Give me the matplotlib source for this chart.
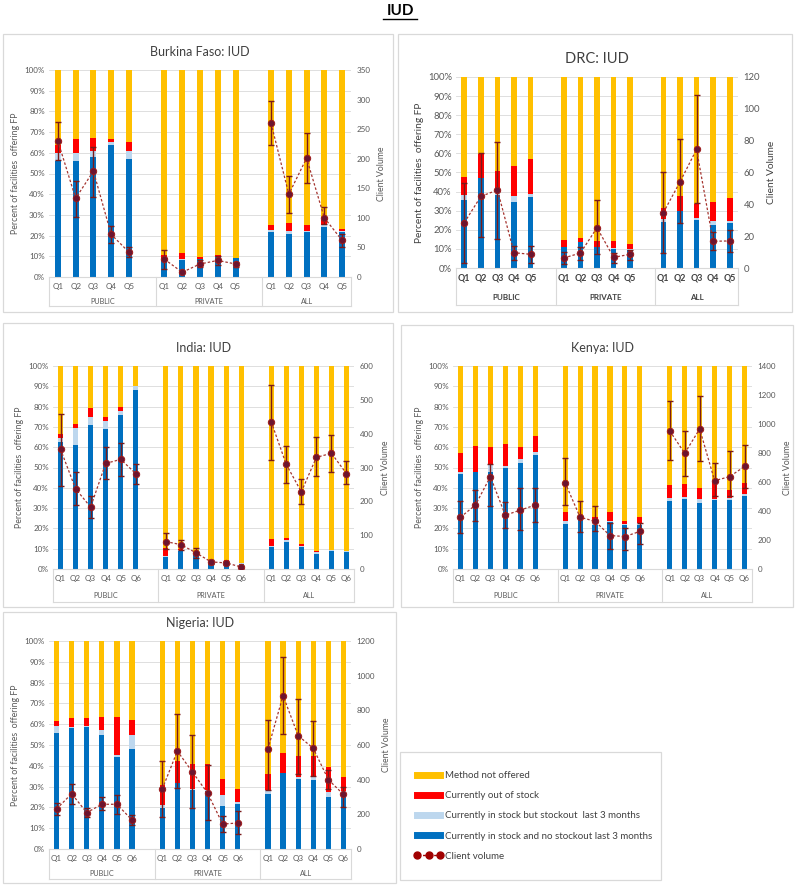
import numpy as np
import matplotlib
matplotlib.use("Agg")
import matplotlib.pyplot as plt
from matplotlib.lines import Line2D
from matplotlib.patches import Rectangle
import matplotlib.transforms as mtrans

plt.rcParams['font.family'] = ['Lato', 'DejaVu Sans']

groups = ['PUBLIC', 'PRIVATE', 'ALL']
quint = ['Q1', 'Q2', 'Q3', 'Q4', 'Q5']
quint6 = ['Q1', 'Q2', 'Q3', 'Q4', 'Q5', 'Q6']

# cumulative tops in %: in stock (no stockout), + stockout last 3 months, + out of stock
# rest up to 100% = method not offered.  cv = client volume (right axis), hi/lo = error bars
bf_blue = [56, 56, 58, 64, 57, 8, 8, 8.5, 9.5, 9, 21.5, 21, 21.5, 24, 21.5]
bf_light = [60, 60, 61, 65, 61, 8.5, 8.5, 8.5, 9.5, 9, 22.5, 22, 22, 25, 22]
bf_red = [64, 66.5, 67, 66.5, 65, 10.5, 11.5, 9.5, 10.5, 9, 25, 26, 25, 27.5, 23]
bf_cv = [230, 133, 179, 72, 42, 30, 8, 22, 28, 22, 260, 140, 201, 100, 62]
bf_hi = [262, 163, 219, 86, 51, 46, 10, 28, 35, 26, 297, 171, 243, 118, 73]
bf_lo = [198, 101, 136, 58, 33, 13, 6, 17, 21, 17, 223, 108, 159, 89, 51]

drc_blue = [35.5, 47, 38, 34.5, 37, 11, 13.5, 11, 10, 9.5, 24, 30, 25, 22.5, 23.5]
drc_light = [38, 47, 40, 37.5, 38.5, 11, 13.8, 11, 10.5, 10, 25.5, 30, 26, 24.5, 24.5]
drc_red = [47.5, 59.5, 51, 53.5, 57, 14.5, 15.5, 14, 14, 12.5, 31.5, 37.5, 33.5, 34.5, 36.5]
drc_cv = [28.5, 45, 49, 9.6, 8.6, 6.3, 9.4, 25.3, 6.7, 8.6, 34.8, 54, 74.5, 16.8, 17]
drc_hi = [53.4, 72, 79, 14, 13.6, 10, 13, 42.5, 9.6, 11, 60, 81, 109, 22.4, 23.7]
drc_lo = [3.4, 19.5, 18.5, 5, 3.4, 2.7, 5, 9, 3.4, 4.8, 9.4, 28.5, 41, 11, 10]

in_blue = [62.5, 61, 71, 69, 76, 88, 6, 9, 7, 3.5, 3, 2.5, 11, 13.5, 11, 7.5, 9, 8.5]
in_light = [64.5, 69.5, 75, 73, 78, 90, 6.5, 9.5, 7.5, 4.5, 4, 3.2, 11.5, 14.5, 11.5, 8.5, 9.3, 8.7]
in_red = [66.5, 71.5, 79.5, 75, 80, 90, 10.5, 10, 8, 4.5, 4.2, 3.2, 15, 15.5, 12.5, 9, 9.5, 8.7]
in_cv = [354, 237, 183, 312, 324, 282, 81, 72, 48, 21, 18, 6, 435, 309, 228, 330, 342, 282]
in_hi = [459, 288, 216, 360, 372, 309, 105, 87, 63, 27, 24, 9, 543, 363, 267, 390, 396, 318]
in_lo = [246, 189, 150, 267, 276, 252, 60, 57, 33, 15, 12, 3, 321, 255, 192, 276, 288, 252]

ke_blue = [47, 48, 48, 50, 52, 56, 22, 24, 21.5, 23, 21.5, 21.5, 33.5, 34.5, 32.5, 34, 34, 36]
ke_light = [48, 48, 51.5, 50.5, 54, 57.5, 23.5, 24.5, 22.5, 23.5, 22, 22.5, 35, 35.5, 34.5, 34.5, 35, 37]
ke_red = [57, 60.5, 60, 61.5, 60, 65.5, 28, 26, 25.5, 28, 23.5, 25.5, 41.5, 42, 40, 44, 39, 42.5]
ke_cv = [357, 441, 637, 371, 406, 441, 595, 357, 329, 231, 224, 259, 952, 798, 966, 609, 637, 707]
ke_hi = [469, 546, 721, 462, 560, 560, 763, 469, 434, 315, 280, 315, 1162, 952, 1190, 728, 812, 854]
ke_lo = [245, 329, 434, 280, 266, 322, 441, 252, 259, 140, 133, 175, 749, 644, 742, 504, 504, 560]

ng_blue = [56, 58, 58.5, 55, 44, 48, 19.7, 31.7, 28.4, 28, 20.7, 21.6, 26.5, 36.5, 33.5, 33, 25, 26.5]
ng_light = [59, 58.5, 59, 57, 45, 55, 21, 31.7, 29, 28.5, 26, 22.6, 28.5, 36.5, 34.5, 34.5, 27.5, 28]
ng_red = [61.5, 63, 63, 63.5, 63.5, 62, 31, 42.3, 40.9, 40.9, 33.7, 28.8, 36, 46, 44.5, 44.5, 39.5, 34.5]
ng_cv = [231, 319, 210, 258, 258, 167, 346, 565, 444, 323, 144, 150, 577, 885, 654, 581, 400, 315]
ng_hi = [265, 377, 236, 300, 313, 194, 508, 777, 656, 483, 190, 219, 742, 1108, 867, 737, 454, 358]
ng_lo = [196, 262, 185, 223, 204, 140, 185, 352, 236, 167, 98, 87, 338, 662, 435, 419, 348, 242]

C_BLUE = '#0070C0'
C_LIGHT = '#BDD7EE'
C_RED = '#FF0000'
C_YEL = '#FFC000'
C_LINE = '#A5342F'
C_MARK = '#6B1530'
C_TXT = '#595959'

W, H = 800, 886
fig = plt.figure(figsize=(W / 100, H / 100), dpi=100)


def frame(l, t, r, b):
    fig.add_artist(Rectangle((l / W, 1 - b / H), (r - l) / W, (b - t) / H,
                             transform=fig.transFigure, fill=False,
                             ec='#D9D9D9', lw=0.9))


def panel(box, fbox, title, qs, blue, light, red, cv, hi, lo, vmax, vstep,
          grp_px, depth_px, gnames=groups, drc=False):
    frame(*fbox)
    l, t, r, b = box
    ax = fig.add_axes([l / W, 1 - b / H, (r - l) / W, (b - t) / H])
    n = len(qs)
    x = np.concatenate([np.arange(n) + g * (n + 1) for g in range(3)])
    blue = np.array(blue, float)
    light = np.array(light, float)
    red = np.array(red, float)
    w = 0.34
    ax.bar(x, blue, w, color=C_BLUE, zorder=2)
    ax.bar(x, light - blue, w, bottom=blue, color=C_LIGHT, zorder=2)
    ax.bar(x, red - light, w, bottom=light, color=C_RED, zorder=2)
    ax.bar(x, 100 - red, w, bottom=red, color=C_YEL, zorder=2)
    ax.set_xlim(-0.5, 3 * n + 1.5)
    ax.set_ylim(0, 100)
    ax.set_yticks(np.arange(0, 101, 10))
    fs = 6.8 if drc else 5.8
    ax.set_yticklabels(['%d%%' % v for v in range(0, 101, 10)], fontsize=fs, color=C_TXT)
    ax.yaxis.grid(True, color='#D9D9D9', lw=0.6, zorder=0)
    ax.set_axisbelow(True)
    for s in ['top', 'right', 'left']:
        ax.spines[s].set_visible(False)
    ax.spines['bottom'].set_color('#D9D9D9')
    ax.tick_params(axis='y', length=0, pad=3)
    ax.tick_params(axis='x', length=0, pad=4)
    ax.set_xticks(x)
    ax.set_xticklabels(qs * 3, fontsize=6.4 if drc else 5.8,
                       color='#404040' if drc else C_TXT,
                       fontweight='bold' if drc else 'normal')
    ax.set_ylabel('Percent of facilities  offering FP', fontsize=7.3 if drc else 6.3,
                  color='#404040' if drc else C_TXT, labelpad=3)
    ax.set_title(title, fontsize=10.5 if drc else 9, color='#404040', pad=10)

    # multi-level category axis
    hpx = b - t
    depth = -depth_px / hpx
    tr = mtrans.blended_transform_factory(ax.transData, ax.transAxes)
    for xs in [-0.5, n + 0.5, 2 * n + 1.5, 3 * n + 1.5]:
        ax.add_line(Line2D([xs, xs], [0, depth], transform=tr, color='#D9D9D9',
                           lw=0.8, clip_on=False))
    ax.add_line(Line2D([-0.5, 3 * n + 1.5], [depth, depth], transform=tr,
                       color='#D9D9D9', lw=0.8, clip_on=False))
    centers = [n / 2, 1.5 * n + 1, 2.5 * n + 1.5]
    for cx, gname in zip(centers, gnames):
        ax.text(cx, -grp_px / hpx, gname, transform=tr, ha='center', va='center',
                fontsize=5.8 if drc else 5.2, color='#404040' if drc else C_TXT,
                fontweight='bold' if drc else 'normal')

    ax2 = ax.twinx()
    ax2.set_ylim(0, vmax)
    ax2.set_yticks(np.arange(0, vmax + 1, vstep))
    ax2.set_yticklabels([str(v) for v in range(0, vmax + 1, vstep)], fontsize=fs, color=C_TXT)
    for s in ax2.spines.values():
        s.set_visible(False)
    ax2.tick_params(length=0, pad=4)
    ax2.set_ylabel('Client Volume', fontsize=7.3 if drc else 6.3,
                   color='#404040' if drc else C_TXT, labelpad=5)
    cv = np.array(cv, float)
    hi = np.array(hi, float)
    lo = np.array(lo, float)
    for g in range(3):
        sl = slice(g * n, (g + 1) * n)
        xx = x[sl]
        ax2.errorbar(xx, cv[sl], yerr=[cv[sl] - lo[sl], hi[sl] - cv[sl]], fmt='none',
                     ecolor='#7A1A1A', elinewidth=1.0, capsize=2.2, capthick=1.0, zorder=4)
        ax2.plot(xx, cv[sl], ls=(0, (2, 1.6)), color=C_LINE, lw=0.9, marker='o',
                 markersize=4.6, markerfacecolor=C_MARK, markeredgecolor='#9E1B1B',
                 markeredgewidth=0.7, zorder=5)
    return ax


fig.text(0.5, 1 - 11 / H, 'IUD', ha='center', va='center', fontsize=11,
         fontweight='bold', color='black')
fig.add_artist(Line2D([383 / W, 417 / W], [1 - 19 / H, 1 - 19 / H],
                      transform=fig.transFigure, color='black', lw=1.0))

panel((49, 70, 351, 277), (3, 34, 393, 312), 'Burkina Faso: IUD', quint,
      bf_blue, bf_light, bf_red, bf_cv, bf_hi, bf_lo, 350, 50, 25, 29)
panel((456, 77, 738, 268), (398, 34, 792, 312), 'DRC: IUD', quint,
      drc_blue, drc_light, drc_red, drc_cv, drc_hi, drc_lo, 120, 20, 30, 37, drc=True)
panel((53, 366, 354, 569), (3, 323, 393, 607), 'India: IUD', quint6,
      in_blue, in_light, in_red, in_cv, in_hi, in_lo, 600, 100, 27, 33)
panel((453, 366, 752, 569), (401, 325, 793, 607), 'Kenya: IUD', quint6,
      ke_blue, ke_light, ke_red, ke_cv, ke_hi, ke_lo, 1400, 200, 27, 33)
panel((49, 641, 351, 849), (3, 612, 396, 883), 'Nigeria: IUD', quint6,
      ng_blue, ng_light, ng_red, ng_cv, ng_hi, ng_lo, 1200, 200, 24, 30,
      gnames=['PUBLIC', 'PRIVATE', 'ALL'])

# legend box
frame(400, 752, 661, 880)
lax = fig.add_axes([400 / W, 1 - 880 / H, 261 / W, 128 / H])
lax.axis('off')
handles = [
    Line2D([], [], color=C_YEL, lw=5),
    Line2D([], [], color=C_RED, lw=5),
    Line2D([], [], color=C_LIGHT, lw=5),
    Line2D([], [], color=C_BLUE, lw=5),
    Line2D([], [], color='#A00000', lw=1, ls=(0, (2, 2)), marker='o',
           markersize=5, markerfacecolor='#A00000', markeredgecolor='#A00000'),
]
labels = ['Method not offered', 'Currently out of stock',
          'Currently in stock but stockout  last 3 months',
          'Currently in stock and no stockout last 3 months', 'Client volume']
lax.legend(handles, labels, loc='upper left', bbox_to_anchor=(0.02, 0.92),
           frameon=False, fontsize=7, handlelength=3.0, handletextpad=0.2,
           labelspacing=1.15, labelcolor='#404040', numpoints=3)

fig.savefig('out.png', dpi=100)
